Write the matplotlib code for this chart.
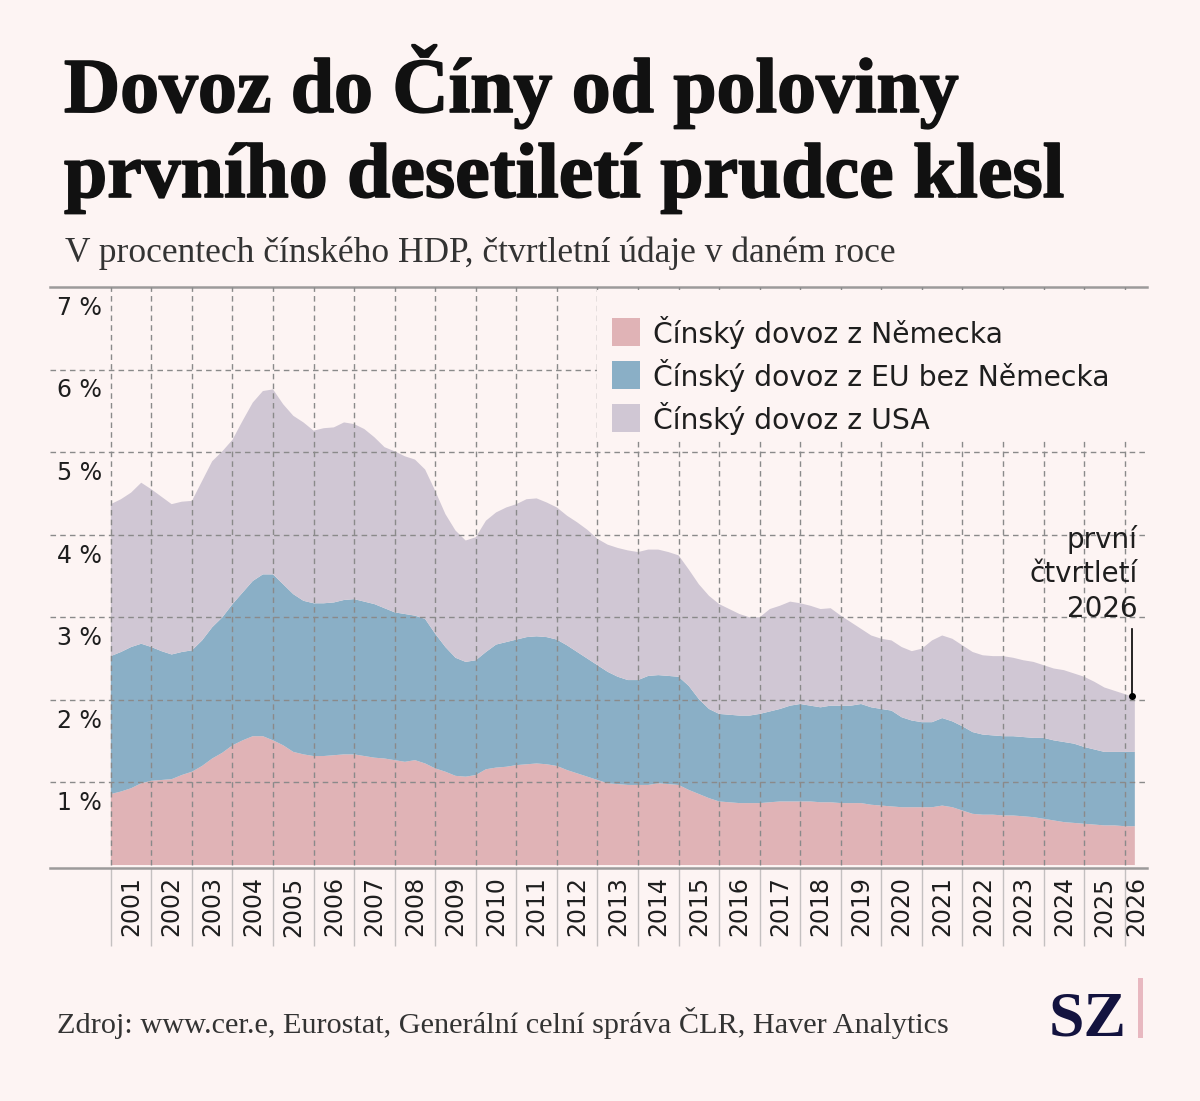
import numpy as np
import matplotlib
matplotlib.use("Agg")
import matplotlib.pyplot as plt
from matplotlib.patches import Rectangle
import matplotlib.transforms as mtransforms
import matplotlib.patheffects as pe

# --- data: Chinese imports, % of Chinese GDP, quarterly (2001 .. Q1 2026) ---
de = [0.86, 0.89, 0.93, 0.99,  1.02, 1.03, 1.04, 1.09,  1.13, 1.20, 1.29, 1.36,
      1.45, 1.51, 1.56, 1.56,  1.51, 1.45, 1.37, 1.34,  1.32, 1.32, 1.33, 1.34,
      1.34, 1.32, 1.30, 1.29,  1.27, 1.25, 1.27, 1.23,  1.17, 1.13, 1.08, 1.07,
      1.09, 1.16, 1.18, 1.19,  1.21, 1.22, 1.23, 1.22,  1.20, 1.15, 1.11, 1.07,
      1.03, 0.99, 0.98, 0.97,  0.97, 0.97, 0.99, 0.98,  0.97, 0.91, 0.86, 0.81,
      0.77, 0.76, 0.75, 0.75,  0.75, 0.76, 0.77, 0.77,  0.77, 0.77, 0.76, 0.76,
      0.75, 0.75, 0.75, 0.73,  0.72, 0.71, 0.70, 0.70,  0.70, 0.70, 0.72, 0.70,
      0.66, 0.62, 0.61, 0.61,  0.60, 0.60, 0.59, 0.58,  0.56, 0.54, 0.52, 0.51,
      0.50, 0.49, 0.48, 0.48,  0.47, 0.47]
eu_ex_de = [1.67, 1.69, 1.71, 1.69,  1.62, 1.56, 1.51, 1.49,  1.47, 1.52, 1.59, 1.64,
            1.71, 1.79, 1.88, 1.96,  2.01, 1.95, 1.91, 1.86,  1.85, 1.85, 1.85, 1.87,
            1.88, 1.87, 1.86, 1.82,  1.79, 1.79, 1.75, 1.75,  1.63, 1.51, 1.43, 1.39,
            1.39, 1.42, 1.49, 1.51,  1.52, 1.54, 1.54, 1.54,  1.53, 1.51, 1.47, 1.43,
            1.39, 1.35, 1.30, 1.27,  1.27, 1.32, 1.31, 1.31,  1.31, 1.26, 1.15, 1.08,
            1.06, 1.06, 1.06, 1.06,  1.08, 1.10, 1.12, 1.16,  1.18, 1.16, 1.15, 1.17,
            1.18, 1.18, 1.20, 1.18,  1.17, 1.16, 1.09, 1.05,  1.03, 1.03, 1.06, 1.04,
            1.02, 0.99, 0.97, 0.96,  0.96, 0.96, 0.96, 0.96,  0.98, 0.97, 0.97, 0.96,
            0.93, 0.91, 0.89, 0.89,  0.90, 0.90]
usa = [1.84, 1.85, 1.87, 1.95,  1.91, 1.87, 1.82, 1.82,  1.81, 1.93, 2.01, 2.01,
       1.99, 2.08, 2.16, 2.22,  2.24, 2.18, 2.16, 2.16,  2.09, 2.12, 2.12, 2.15,
       2.12, 2.09, 2.02, 1.95,  1.95, 1.91, 1.89, 1.81,  1.73, 1.61, 1.54, 1.47,
       1.49, 1.59, 1.60, 1.63,  1.64, 1.67, 1.67, 1.63,  1.60, 1.57, 1.57, 1.56,
       1.53, 1.54, 1.56, 1.57,  1.55, 1.53, 1.52, 1.50,  1.47, 1.41, 1.39, 1.37,
       1.33, 1.28, 1.23, 1.19,  1.17, 1.24, 1.25, 1.26,  1.22, 1.21, 1.19, 1.18,
       1.09, 1.01, 0.91, 0.87,  0.85, 0.85, 0.85, 0.84,  0.89, 0.99, 1.00, 1.00,
       0.98, 0.97, 0.96, 0.96,  0.97, 0.95, 0.93, 0.92,  0.88, 0.87, 0.87, 0.85,
       0.85, 0.82, 0.78, 0.74,  0.70, 0.66]

years = list(range(2001, 2027))
series_labels = ["Čínský dovoz z Německa", "Čínský dovoz z EU bez Německa",
                 "Čínský dovoz z USA"]
ytick_values = [1, 2, 3, 4, 5, 6, 7]

# --- styling ---
BG = "#fdf4f3"
COLORS = ["#e0b3b6", "#8aafc6", "#d0c7d4"]
GRID = "#8a8a8a"
TXT = "#1e1e1e"
SANS = "DejaVu Sans"
SERIF = "Liberation Serif"

W, H = 1200, 1101
fig = plt.figure(figsize=(W / 100, H / 100), dpi=100, facecolor=BG)

# axes box in pixels: left 50, right 1147, top 287 (7 %), bottom 868
ax = fig.add_axes([50 / W, 1 - 868 / H, 1097 / W, (868 - 287) / H])
ax.set_facecolor(BG)

x = 2001 + np.arange(len(de)) / 4
ax.stackplot(x, de, eu_ex_de, usa, colors=COLORS, linewidth=0, zorder=1)

x0, x1 = 1999.5, 2026.55
ax.set_xlim(x0, x1)
ax.set_ylim(-0.036, 7)

# dashed grid drawn over the areas
for v in ytick_values[:-1]:
    ax.axhline(v, color=GRID, lw=1, ls=(0, (4, 3)), zorder=3)
for yr in years:
    ax.plot([yr, yr], [0, 7], color=GRID, lw=1, ls=(0, (4, 3)), zorder=3)

for side in ["left", "right"]:
    ax.spines[side].set_visible(False)
for side in ["top", "bottom"]:
    ax.spines[side].set_color("#9c9a9a")
    ax.spines[side].set_linewidth(1.8)

# y labels sit just under each gridline
ax.set_yticks([])
for v in ytick_values:
    ax.annotate(f"{v} %", xy=(0.006, v), xycoords=("axes fraction", "data"),
                xytext=(0, -20), textcoords="offset points",
                ha="left", va="baseline", fontsize=17, family=SANS, color=TXT)

# x: separators at year starts, labels in the middle of each year
ax.set_xticks(years)
ax.tick_params(axis="x", which="major", length=56, width=1, color="#c4c0c0",
               labelbottom=False)
label_pos = [min(y + 0.5, (y + x1) / 2) for y in years]
ax.set_xticks(label_pos, minor=True)
ax.set_xticklabels([str(y) for y in years], minor=True, rotation=90,
                   fontsize=17, family=SANS, color=TXT)
ax.tick_params(axis="x", which="minor", length=0, pad=6)

# legend: opaque box hiding the grid, then swatches and labels
blend = mtransforms.blended_transform_factory(ax.transAxes, ax.transData)
ax.add_patch(Rectangle((0.4986, 5.17), 0.5014, 1.79, transform=blend,
                       facecolor=BG, edgecolor="none", zorder=4))
for i, (lab, col) in enumerate(zip(series_labels, COLORS)):
    yc = 6.45 - i * 0.52
    ax.add_patch(Rectangle(((612 - 50) / 1097, yc - 0.17), 28 / 1097, 0.34,
                           transform=blend, facecolor=col, edgecolor="none",
                           zorder=5))
    ax.text((653 - 50) / 1097, yc, lab, transform=blend, ha="left",
            va="center", fontsize=20.3, family=SANS, color=TXT, zorder=5)

# annotation for the last quarter
total = np.array(de) + np.array(eu_ex_de) + np.array(usa)
x_dot = x[-1] - 0.08
y_dot = np.interp(x_dot, x, total)
ax.text(2026.31, 2.93, "první\nčtvrtletí\n2026", ha="right", va="bottom",
        fontsize=20, family=SANS, color=TXT, linespacing=1.3, zorder=6)
ax.plot([x_dot, x_dot], [2.86, y_dot], color="black", lw=1.2, zorder=6)
ax.plot([x_dot], [y_dot], "o", color="black", ms=4, zorder=7)

# titles and footer
bold_fx = [pe.withStroke(linewidth=1.2, foreground="#111111")]
fig.text(64 / W, 1 - 112 / H, "Dovoz do Číny od poloviny", family=SERIF,
         fontweight="bold", fontsize=56, color="#111111", va="baseline",
         path_effects=bold_fx)
fig.text(64 / W, 1 - 197 / H, "prvního desetiletí prudce klesl", family=SERIF,
         fontweight="bold", fontsize=56, color="#111111", va="baseline",
         path_effects=bold_fx)
fig.text(65 / W, 1 - 262 / H,
         "V procentech čínského HDP, čtvrtletní údaje v daném roce",
         family=SERIF, fontsize=25.5, color="#333333", va="baseline")
fig.text(57 / W, 1 - 1033 / H,
         "Zdroj: www.cer.e, Eurostat, Generální celní správa ČLR, Haver Analytics",
         family=SERIF, fontsize=21.8, color="#333333", va="baseline")

fig.text(1127 / W, 1 - 1035 / H, "SZ", family=SERIF, fontweight="bold",
         fontsize=46, color="#13133f", ha="right", va="baseline")
fig.add_artist(Rectangle((1138 / W, 1 - 1038 / H), 5 / W, 60 / H,
                         transform=fig.transFigure, facecolor="#e8b8c0",
                         edgecolor="none"))

fig.savefig("out.png", dpi=100, facecolor=BG)
